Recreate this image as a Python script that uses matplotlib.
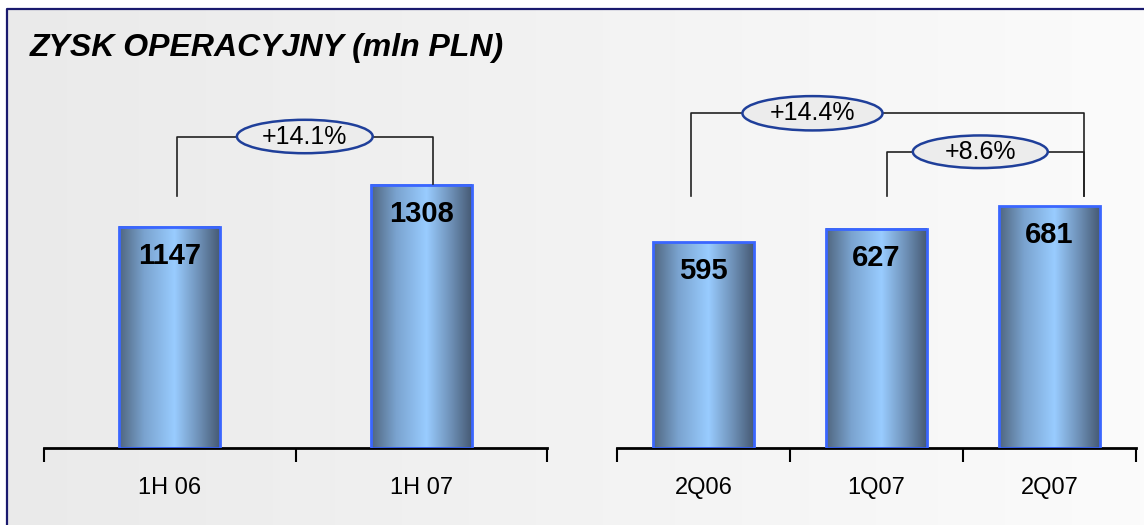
import numpy as np
import matplotlib
matplotlib.use("Agg")
import matplotlib.pyplot as plt
from matplotlib.colors import LinearSegmentedColormap
from matplotlib.patches import Ellipse, Rectangle

plt.rcParams['font.family'] = ['Liberation Sans', 'DejaVu Sans']

# ---- data ----
title = "ZYSK OPERACYJNY (mln PLN)"
left_cats = ["1H 06", "1H 07"]
left_vals = [1147, 1308]
right_cats = ["2Q06", "1Q07", "2Q07"]
right_vals = [595, 627, 681]
left_change = "+14.1%"
right_change_long = "+14.4%"
right_change_short = "+8.6%"

W, H = 1144, 525
fig = plt.figure(figsize=(W / 100, H / 100), dpi=100)

# background gradient
bg = fig.add_axes([0, 0, 1, 1], zorder=-10)
bg.set_axis_off()
grad = np.linspace(0, 1, 256).reshape(1, -1)
bg_cmap = LinearSegmentedColormap.from_list("bg", ["#eaeaea", "#fbfbfb"])
bg.imshow(grad, cmap=bg_cmap, extent=[0, 1, 0, 1], aspect='auto', transform=bg.transAxes)
# white strip above / left of frame
bg.add_patch(Rectangle((0, 1 - 9 / H), 1, 9 / H, transform=bg.transAxes, facecolor='white', edgecolor='none'))
bg.add_patch(Rectangle((0, 0), 7 / W, 1, transform=bg.transAxes, facecolor='white', edgecolor='none'))
# frame
bg.plot([7 / W, 7 / W, 1.0], [0, 1 - 9 / H, 1 - 9 / H], color='#1a1a6e', lw=1.6, transform=bg.transAxes)
bg.set_xlim(0, 1); bg.set_ylim(0, 1)

fig.text(30 / W, 1 - 48 / H, title, fontsize=23, fontweight='bold', fontstyle='italic',
         ha='left', va='center', color='black')

bar_cmap = LinearSegmentedColormap.from_list(
    "bar", [(0, "#50667f"), (0.25, "#7aa3cf"), (0.55, "#99ccff"), (0.8, "#6d8fb5"), (1, "#465a74")])


def px_axes(x0, x1, ybot, ytop):
    return fig.add_axes([x0 / W, 1 - ybot / H, (x1 - x0) / W, (ybot - ytop) / H])


def draw_panel(ax, cats, vals, ylim, width):
    n = len(cats)
    ax.set_xlim(-0.5, n - 0.5)
    ax.set_ylim(*ylim)
    ax.patch.set_alpha(0)
    for s in ['top', 'right', 'left']:
        ax.spines[s].set_visible(False)
    ax.spines['bottom'].set_linewidth(2)
    ax.spines['bottom'].set_color('black')
    ax.set_yticks([])
    ax.set_xticks(range(n))
    ax.set_xticklabels(cats, fontsize=17)
    ax.tick_params(axis='x', which='major', length=0, pad=21)
    ax.set_xticks(np.arange(-0.5, n, 1.0), minor=True)
    ax.tick_params(axis='x', which='minor', length=10, width=1.5, direction='out', color='black')
    for i, v in enumerate(vals):
        ax.imshow(grad, cmap=bar_cmap, extent=[i - width / 2, i + width / 2, ylim[0], v],
                  aspect='auto', zorder=2, interpolation='bilinear')
        ax.bar(i, v - ylim[0], bottom=ylim[0], width=width, facecolor='none',
               edgecolor='#3a66ff', lw=2, zorder=3)
        ax.annotate(str(v), (i, v), xytext=(0, -29), textcoords='offset pixels',
                    ha='center', va='center', fontsize=21, fontweight='bold', zorder=4)
    ax.set_xlim(-0.5, n - 0.5)
    ax.set_ylim(*ylim)


def bracket(ax, x0, x1, y_top, y0b, y1b, label, ex, ew, eh):
    ax.plot([x0, x0, x1, x1], [y0b, y_top, y_top, y1b], color='#222222', lw=1.2, zorder=5,
            clip_on=False)
    ax.add_patch(Ellipse((ex, y_top), ew, eh, facecolor='#ececec', edgecolor='#1f3f9a',
                         lw=1.8, zorder=6, clip_on=False))
    ax.text(ex, y_top, label, ha='center', va='center', fontsize=18, zorder=7)


# left panel: axis 44..547 px, baseline y=448, top y=100
axL = px_axes(44, 547, 448, 100)
ylimL = (300, 300 + 348 * 3.83)
draw_panel(axL, left_cats, left_vals, ylimL, 0.40)
bracket(axL, 0.028, 1.048, 1493, 1265, 1311, left_change, 0.537, 0.54, 128)

# right panel: axis 617..1136 px
axR = px_axes(617, 1136, 448, 100)
ylimR = (103, 103 + 348 * 2.39)
draw_panel(axR, right_cats, right_vals, ylimR, 0.58)
bracket(axR, -0.075, 2.2, 903, 705, 705, right_change_long, 0.63, 0.81, 82)
bracket(axR, 1.06, 2.2, 811, 705, 705, right_change_short, 1.6, 0.78, 78)

fig.savefig("out.png", dpi=100)
